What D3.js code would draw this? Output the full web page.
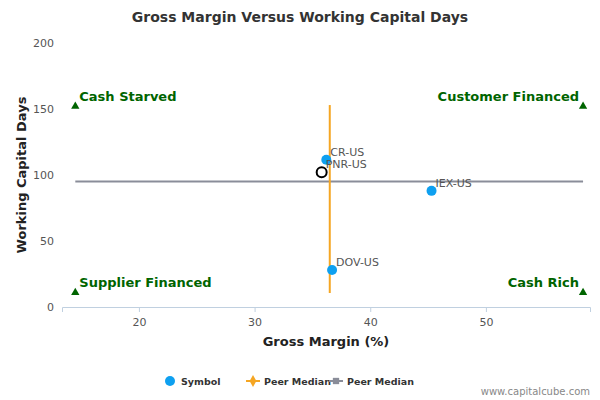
<!DOCTYPE html><html><head><script src="https://cdn.jsdelivr.net/npm/d3@7"></script>
<style>body{margin:0;background:#fff}text{font-family:"DejaVu Sans",sans-serif}</style></head><body><svg id="c" width="600" height="400"></svg><script>
const symbols=["CR-US","PNR-US","IEX-US","DOV-US"];
const grossMargin=[36.2,35.8,45.3,36.7];
const wcDays=[111.5,102,88,28];
const hollow=[false,true,false,false];
const medianX=36.5, medianYRange=[10.6,153];
const medianY=95, medianXRange=[14.5,58.4];
const quadrants=[{t:"Cash Starved",x:14.5,y:152,a:"start"},{t:"Customer Financed",x:58.4,y:152,a:"end"},{t:"Supplier Financed",x:14.5,y:11,a:"start"},{t:"Cash Rich",x:58.4,y:11,a:"end"}];
const xTicks=[20,30,40,50], yTicks=[0,50,100,150,200];
const svg=d3.select("#c");
const x=d3.scaleLinear().domain([13.35,59.0]).range([62,590]);
const y=d3.scaleLinear().domain([0,200]).range([307,43]);
svg.append("text").attr("x",300).attr("y",22).attr("text-anchor","middle").attr("font-size",14).attr("font-weight","bold").attr("fill","#333").text("Gross Margin Versus Working Capital Days");
const ga=svg.append("g").attr("transform","translate(0,307)").call(d3.axisBottom(x).tickValues(xTicks).tickSize(5).tickPadding(6));
ga.select(".domain").attr("stroke","#c0d0e0");ga.selectAll("line").attr("stroke","#c0d0e0");ga.selectAll("text").attr("fill","#555").attr("font-size",11);
yTicks.forEach(v=>svg.append("text").attr("x",54).attr("y",y(v)+4).attr("text-anchor","end").attr("font-size",11).attr("fill","#555").text(v));
svg.append("text").attr("x",326).attr("y",346).attr("text-anchor","middle").attr("font-size",13).attr("font-weight","bold").attr("fill","#222").text("Gross Margin (%)");
svg.append("text").attr("transform","translate(26,175) rotate(-90)").attr("text-anchor","middle").attr("font-size",13).attr("font-weight","bold").attr("fill","#222").text("Working Capital Days");
svg.append("line").attr("x1",x(medianXRange[0])).attr("x2",x(medianXRange[1])).attr("y1",y(medianY)).attr("y2",y(medianY)).attr("stroke","#8a8d99").attr("stroke-width",2);
svg.append("line").attr("x1",x(medianX)).attr("x2",x(medianX)).attr("y1",y(medianYRange[0])).attr("y2",y(medianYRange[1])).attr("stroke","#f5a623").attr("stroke-width",2);
quadrants.forEach(q=>{
 svg.append("path").attr("d",d3.symbol(d3.symbolTriangle,30)()).attr("transform",`translate(${x(q.x)},${y(q.y)})`).attr("fill","#006400");
 svg.append("text").attr("x",x(q.x)+(q.a=="start"?4:-4)).attr("y",y(q.y)-5).attr("text-anchor",q.a).attr("font-size",13).attr("font-weight","bold").attr("fill","#006400").text(q.t);
});
symbols.forEach((s,i)=>{
 const cx=x(grossMargin[i]),cy=y(wcDays[i]);
 if(hollow[i]) svg.append("circle").attr("cx",cx).attr("cy",cy).attr("r",5).attr("fill","none").attr("stroke","#000").attr("stroke-width",2);
 else svg.append("circle").attr("cx",cx).attr("cy",cy).attr("r",5).attr("fill","#0ea0f0");
 svg.append("text").attr("x",cx+4).attr("y",cy-4).attr("font-size",11).attr("fill","#555").text(s);
});
const lg=[{t:"Symbol",c:"#0ea0f0",k:"c"},{t:"Peer Median",c:"#f5a623",k:"d"},{t:"Peer Median",c:"#8a8d99",k:"s"}];
const lx=[170,253,336];
lg.forEach((l,i)=>{
 const g=svg.append("g").attr("transform",`translate(${lx[i]},381)`);
 if(l.k=="c") g.append("circle").attr("r",5).attr("fill",l.c);
 else {g.append("line").attr("x1",-7).attr("x2",7).attr("stroke",l.c).attr("stroke-width",2);
  g.append("path").attr("d",d3.symbol(l.k=="d"?d3.symbolDiamond:d3.symbolSquare,40)()).attr("fill",l.c);}
 g.append("text").attr("x",11).attr("y",4).attr("font-size",9.5).attr("font-weight","bold").attr("fill","#333").text(l.t);
});
svg.append("text").attr("x",590).attr("y",395).attr("text-anchor","end").attr("font-size",10).attr("fill","#888").text("www.capitalcube.com");
</script></body></html>
